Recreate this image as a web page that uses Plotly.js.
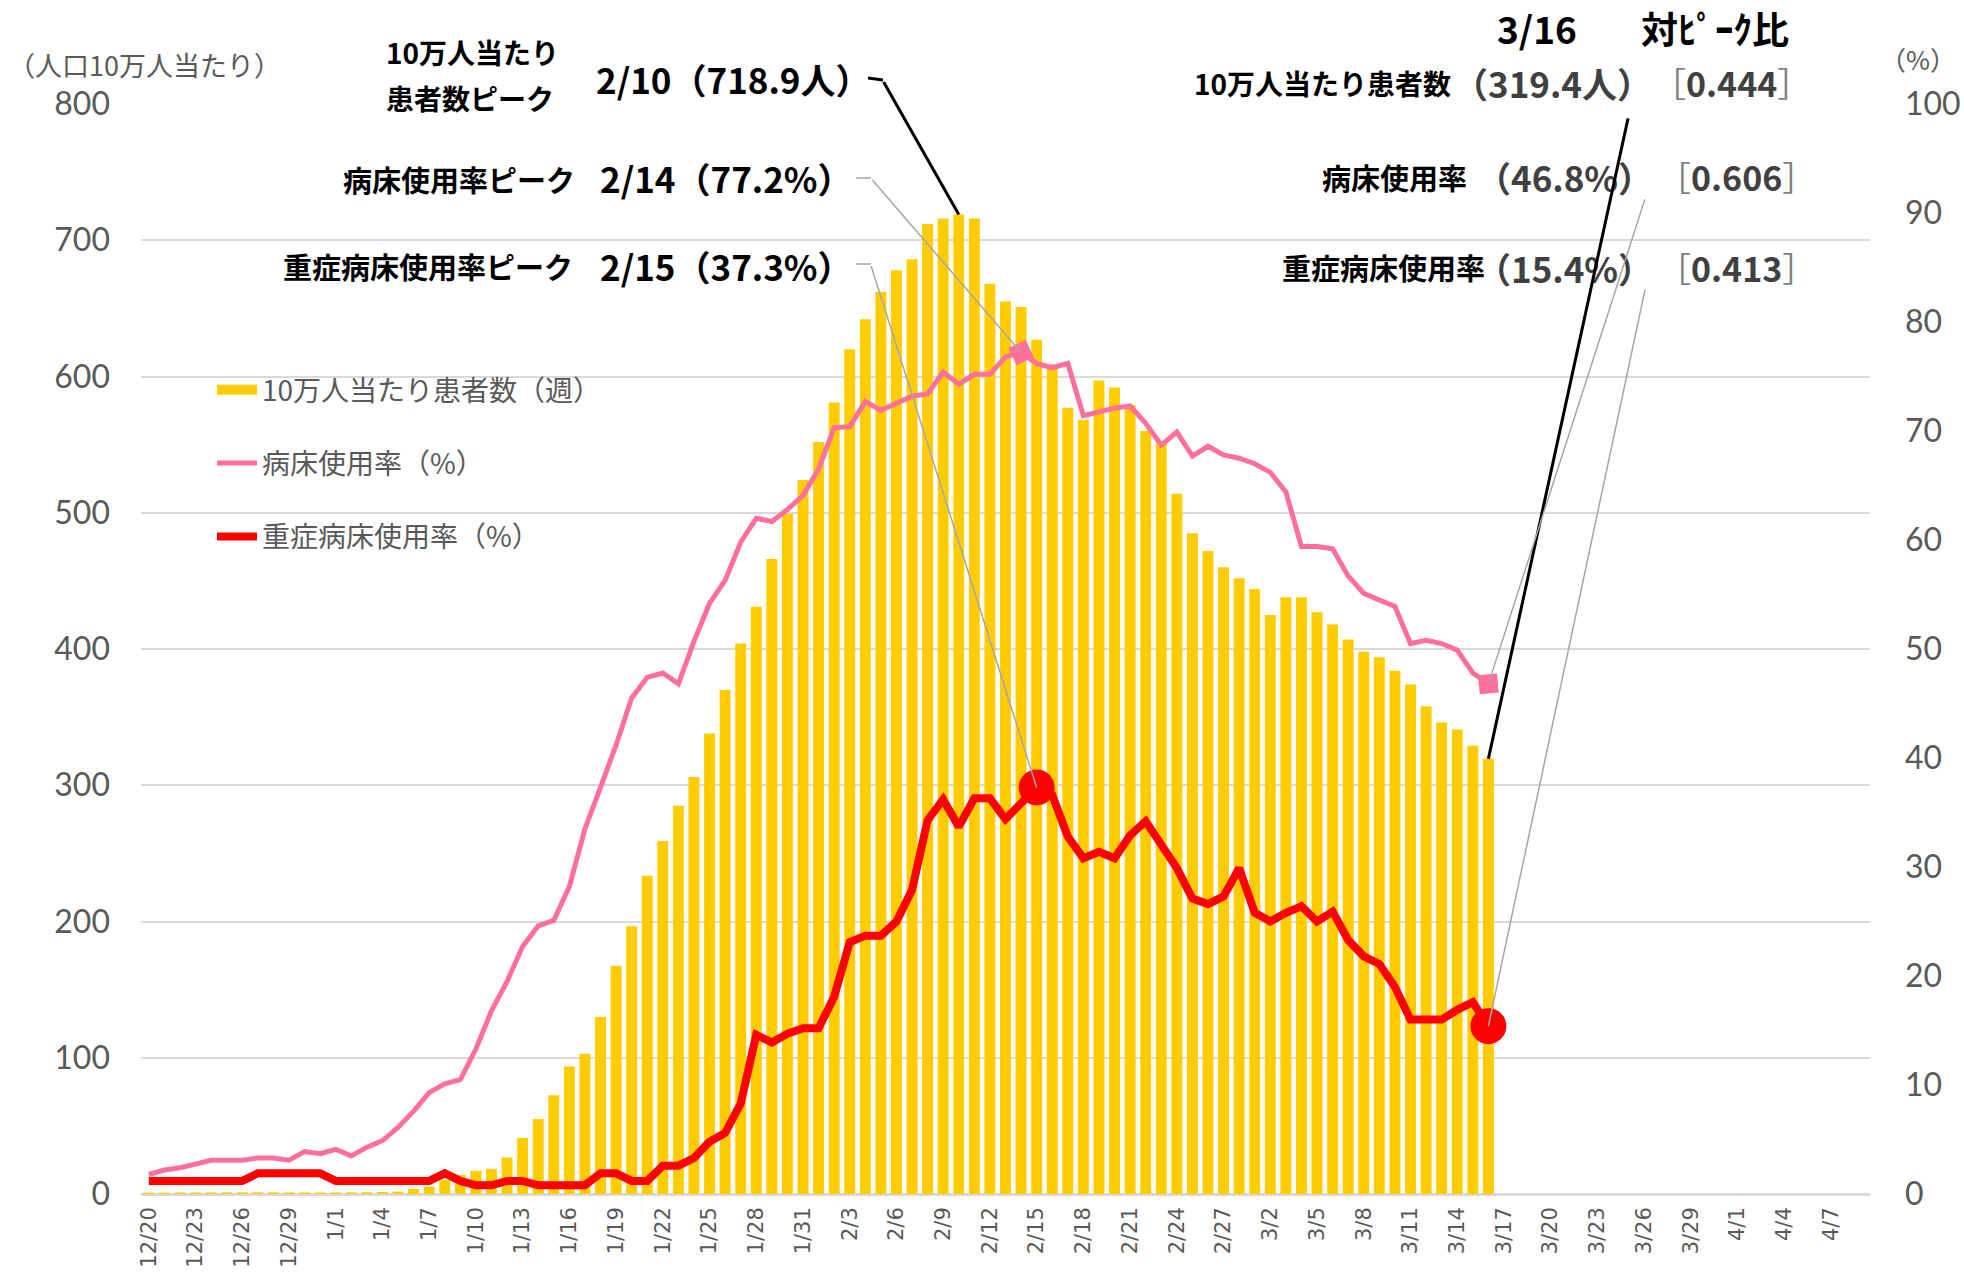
<!DOCTYPE html>
<html>
<head>
<meta charset="utf-8">
<script src="https://cdn.plot.ly/plotly-3.0.1.min.js"></script>
<style>html,body{margin:0;padding:0;background:#fff;}#chart{width:1964px;height:1279px;}</style>
</head>
<body>
<div id="chart"></div>
<script>
// Dates with data (12/20 - 3/16)
const dates = ['12/20','12/21','12/22','12/23','12/24','12/25','12/26','12/27','12/28','12/29','12/30','12/31',
'1/1','1/2','1/3','1/4','1/5','1/6','1/7','1/8','1/9','1/10','1/11','1/12','1/13','1/14','1/15','1/16','1/17','1/18','1/19','1/20','1/21','1/22','1/23','1/24','1/25','1/26','1/27','1/28','1/29','1/30','1/31',
'2/1','2/2','2/3','2/4','2/5','2/6','2/7','2/8','2/9','2/10','2/11','2/12','2/13','2/14','2/15','2/16','2/17','2/18','2/19','2/20','2/21','2/22','2/23','2/24','2/25','2/26','2/27','2/28',
'3/1','3/2','3/3','3/4','3/5','3/6','3/7','3/8','3/9','3/10','3/11','3/12','3/13','3/14','3/15','3/16'];
// Remaining axis categories (no data yet)
const futureDates = ['3/17','3/18','3/19','3/20','3/21','3/22','3/23','3/24','3/25','3/26','3/27','3/28','3/29','3/30','3/31',
'4/1','4/2','4/3','4/4','4/5','4/6','4/7','4/8','4/9'];
const tickLabels = ['12/20','12/23','12/26','12/29','1/1','1/4','1/7','1/10','1/13','1/16','1/19','1/22','1/25','1/28','1/31',
'2/3','2/6','2/9','2/12','2/15','2/18','2/21','2/24','2/27','3/2','3/5','3/8','3/11','3/14','3/17','3/20','3/23','3/26','3/29','4/1','4/4','4/7'];

// 10万人当たり患者数（週）
const casesPer100k = [1.0,1.0,1.1,1.1,1.1,1.2,1.2,1.2,1.2,1.1,1.1,1.1,
1.1,1.2,1.3,1.5,1.8,3.8,5.3,10.2,14.0,17.0,18.5,26.8,41.2,55.0,72.5,93.5,103.0,130.0,167.5,196.5,233.5,259,285,306,338,370,404,431,466,499,524,
552,581,620,642,662,678,686,712,716,718.9,716,668,655,651,627,609,577,568,597,592,579,560,551,514,485,472,460,452,
444,425,438,438,427,418,407,398,394,384,374,358,346,341,329,319.4];
// 病床使用率（%）
const bedRate = [1.8,2.2,2.4,2.7,3.1,3.1,3.1,3.3,3.3,3.1,3.9,3.7,
4.1,3.5,4.3,4.9,6.1,7.6,9.3,10.1,10.5,13.3,16.8,19.5,22.7,24.6,25.1,28.2,33.5,37.3,41.2,45.5,47.4,47.8,46.8,50.7,54.2,56.3,59.8,62.0,61.7,62.8,64.1,
66.5,70.3,70.4,72.7,71.9,72.5,73.2,73.4,75.4,74.3,75.2,75.2,76.8,77.2,76.2,75.8,76.2,71.4,71.8,72.1,72.3,70.7,68.7,69.9,67.7,68.6,67.8,67.5,
67.0,66.2,64.4,59.4,59.4,59.2,56.7,55.1,54.5,53.9,50.5,50.8,50.5,49.9,47.8,46.8];
// 重症病床使用率（%）
const severeRate = [1.2,1.2,1.2,1.2,1.2,1.2,1.2,1.9,1.9,1.9,1.9,1.9,
1.2,1.2,1.2,1.2,1.2,1.2,1.2,1.9,1.2,0.8,0.8,1.2,1.2,0.8,0.8,0.8,0.8,1.9,1.9,1.2,1.2,2.6,2.6,3.3,4.8,5.6,8.3,14.6,13.9,14.7,15.2,
15.2,18.1,23.1,23.7,23.7,25.0,27.9,34.3,36.2,33.7,36.3,36.3,34.4,35.8,37.3,36.6,32.8,30.8,31.4,30.8,32.9,34.2,31.9,29.9,27.1,26.6,27.3,29.9,
25.8,25.0,25.8,26.4,25.0,25.9,23.3,21.8,21.1,19.0,16.0,16.0,16.0,16.9,17.6,15.4];

const casesPeakDate = '2/10', bedPeakDate = '2/14', severePeakDate = '2/15', latestDate = '3/16';
const allDates = dates.concat(futureDates);
const iC = dates.indexOf(casesPeakDate), iB = dates.indexOf(bedPeakDate), iS = dates.indexOf(severePeakDate), iL = dates.indexOf(latestDate);

const JP = '"Noto Sans CJK JP", "Noto Sans", sans-serif';
const NUM = 'Lato, "Open Sans", sans-serif';
const GRAY = '#595959';
const YELLOW = '#FFCC00', PINK = '#FF6F9C', RED = '#FF0000';

const traces = [
  {type:'bar', x:dates, y:casesPer100k, name:'10万人当たり患者数（週）', marker:{color:YELLOW}, showlegend:false},
  // legend entry for the bars (wide yellow swatch like the original)
  {type:'scatter', mode:'lines', x:[null], y:[null], name:'10万人当たり患者数（週）', line:{color:YELLOW, width:15}, legendgroup:'a'},
  {type:'scatter', mode:'lines', x:dates, y:bedRate, yaxis:'y2', name:'病床使用率（%）', line:{color:PINK, width:5}, legendgroup:'b'},
  {type:'scatter', mode:'lines', x:dates, y:severeRate, yaxis:'y2', name:'重症病床使用率（%）', line:{color:RED, width:8}, legendgroup:'c'},
  {type:'scatter', mode:'markers', x:[dates[iB], dates[iL]], y:[bedRate[iB], bedRate[iL]], yaxis:'y2', showlegend:false,
    marker:{symbol:'square', size:19, color:PINK, angle:[-25,-5]}},
  {type:'scatter', mode:'markers', x:[dates[iS], dates[iL]], y:[severeRate[iS], severeRate[iL]], yaxis:'y2', showlegend:false,
    marker:{symbol:'circle', size:36, color:RED}}
];

// pixel helpers for paper placement
const L=141, T=104, W=1729, H=1090;
const px = v => (v-L)/W, py = v => (1194-v)/H;

function txt(text, x, y, anchor, size, color, bold){
  return {xref:'paper', yref:'paper', x:px(x), y:py(y), xanchor:anchor, yanchor:'middle', text:text, showarrow:false,
    font:{family:JP, size:size, color:color, weight: bold?'bold':'normal'}};
}
function ratio(v){ return '<span style="color:#7F7F7F">［</span><b>' + v + '</b><span style="color:#7F7F7F">］</span>'; }
function leader(xcat, yval, yref, ax, ay, color, width){
  return {x:xcat, y:yval, xref:'x', yref:yref, text:'', showarrow:true, arrowhead:0, ax:ax, ay:ay,
    arrowcolor:color, arrowwidth:width, standoff:0, startstandoff:0, font:{size:1}};
}

const annotations = [
  txt('（人口10万人当たり）', 6, 64, 'left', 27, GRAY, false),
  txt('（%）', 1958, 59, 'right', 26, GRAY, false),
  txt('10万人当たり', 384, 52, 'left', 28, '#000', true),
  txt('患者数ピーク', 384, 98, 'left', 28, '#000', true),
  txt('2/10（718.9人）', 594, 78, 'left', 35, '#000', true),
  txt('病床使用率ピーク', 577, 179, 'right', 29, '#000', true),
  txt('2/14（77.2%）', 598, 178, 'left', 35, '#000', true),
  txt('重症病床使用率ピーク', 575, 266, 'right', 29, '#000', true),
  txt('2/15（37.3%）', 598, 266, 'left', 35, '#000', true),
  txt('3/16', 1495, 28, 'left', 37, '#000', true),
  txt('対ﾋﾟｰｸ比', 1639, 28, 'left', 37, '#000', true),
  txt('10万人当たり患者数', 1453, 83, 'right', 28, '#000', true),
  txt('（319.4人）', 1451, 83, 'left', 35, '#404040', true),
  txt(ratio('0.444'), 1650, 83, 'left', 34, '#404040', false),
  txt('病床使用率', 1469, 177, 'right', 29, '#000', true),
  txt('（46.8%）', 1474, 177, 'left', 35, '#404040', true),
  txt(ratio('0.606'), 1655, 177, 'left', 34, '#404040', false),
  txt('重症病床使用率', 1487, 267, 'right', 29, '#000', true),
  txt('（15.4%）', 1474, 267, 'left', 35, '#404040', true),
  txt(ratio('0.413'), 1655, 267, 'left', 34, '#404040', false),
  leader(dates[iC], casesPer100k[iC], 'y', -76, -134, '#000', 3),
  leader(dates[iB], bedRate[iB], 'y2', -150, -174, '#A6A6A6', 1.5),
  leader(dates[iS], severeRate[iS], 'y2', -166, -523, '#A6A6A6', 1.5),
  leader(dates[iL], casesPer100k[iL], 'y', 140, -642, '#000', 3),
  leader(dates[iL], bedRate[iL], 'y2', 157, -486, '#A6A6A6', 1.5),
  leader(dates[iL], severeRate[iL], 'y2', 157, -738, '#A6A6A6', 1.5)
];

const shapes = [
  {type:'line', xref:'paper', yref:'paper', x0:px(868), y0:py(78), x1:px(883), y1:py(80), line:{color:'#000', width:3}},
  {type:'line', xref:'paper', yref:'paper', x0:px(856), y0:py(178), x1:px(871), y1:py(178), line:{color:'#A6A6A6', width:1.5}},
  {type:'line', xref:'paper', yref:'paper', x0:px(856), y0:py(264), x1:px(871), y1:py(264), line:{color:'#A6A6A6', width:1.5}}
];

const layout = {
  width:1964, height:1279,
  margin:{l:L, r:1964-L-W, t:T, b:1279-T-H, autoexpand:false},
  paper_bgcolor:'#fff', plot_bgcolor:'#fff',
  bargap:0.3,
  showlegend:true,
  legend:{x:px(212), y:py(365), xanchor:'left', yanchor:'top', bgcolor:'rgba(0,0,0,0)',
    font:{family:JP, size:28, color:GRAY}, tracegroupgap:34, traceorder:'grouped', itemwidth:40},
  xaxis:{type:'category', categoryorder:'array', categoryarray:allDates, range:[-0.5, allDates.length-0.5],
    tickmode:'array', tickvals:tickLabels, ticktext:tickLabels, tickangle:-90,
    tickfont:{family:'"DejaVu Sans", sans-serif', size:21, color:GRAY}, showgrid:false, showline:false, ticks:'',
    automargin:false, ticklabelstandoff:8},
  yaxis:{range:[0,800], dtick:100, tick0:0, showgrid:true, gridcolor:'#D9D9D9', gridwidth:2,
    zeroline:true, zerolinecolor:'#D9D9D9', zerolinewidth:3, showline:false, ticks:'',
    tickfont:{family:NUM, size:32, color:GRAY}, automargin:false, ticklabelstandoff:30},
  yaxis2:{range:[0,100], dtick:10, tick0:0, overlaying:'y', side:'right', showgrid:false, zeroline:false, showline:false, ticks:'',
    tickfont:{family:NUM, size:32, color:GRAY}, automargin:false, ticklabelstandoff:34},
  annotations:annotations,
  shapes:shapes
};

Plotly.newPlot('chart', traces, layout, {displayModeBar:false, staticPlot:true});
</script>
</body>
</html>
